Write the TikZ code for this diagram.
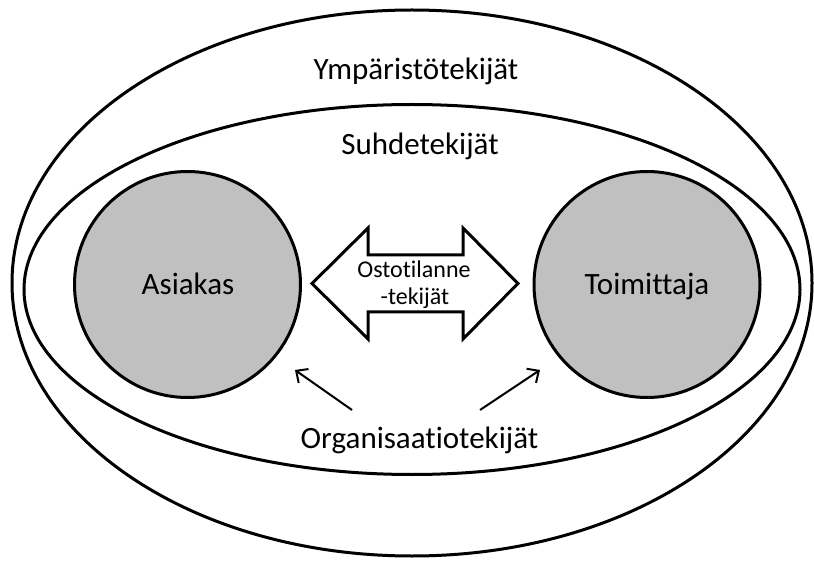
\documentclass[tikz,border=0pt]{standalone}
\usepackage{fontspec}
\setmainfont[Ligatures={NoCommon,NoRare}]{Carlito}
\usetikzlibrary{arrows.meta}
\definecolor{bodygray}{RGB}{192,192,192}
\tikzset{
  ring/.style={draw=black, line width=3pt},
  party/.style={circle, draw=black, line width=3pt, fill=bodygray, minimum size=226pt, inner sep=0pt},
  bigtext/.style={font=\fontsize{31}{36}\selectfont, anchor=base, inner sep=0pt},
  smalltext/.style={font=\fontsize{24}{28}\selectfont, anchor=base, inner sep=0pt},
  pointer/.style={line width=2pt, -{Straight Barb[length=9pt,width=17pt,line width=2pt]}}
}
\begin{document}
\begin{tikzpicture}[x=1pt, y=-1pt]
  \useasboundingbox (0,0) rectangle (814,561);
  % nested contexts
  \draw[ring] (412,283) ellipse [x radius=400, y radius=273];
  \draw[ring] (412,289.5) ellipse [x radius=388, y radius=185];
  % the two parties
  \node[party] (asiakas) at (187.5,284.5) {};
  \node[party] (toimittaja) at (647,284.5) {};
  \node[bigtext] (asiakasl) at (188,295) {Asiakas};
  \node[bigtext] (toimittajal) at (647,295) {Toimittaja};
  % double block arrow between the parties
  \draw[line width=3pt, line join=miter, fill=white]
    (312,283.5) -- (368,228) -- (368,255) -- (463,255) -- (463,228)
    -- (518,283.5) -- (463,339) -- (463,312) -- (368,312) -- (368,339) -- cycle;
  \node[smalltext] (osto1) at (414,278) {Ostotilanne};
  \node[smalltext] (osto2) at (415,305) {-tekijät};
  % layer labels
  \node[bigtext] (ymp) at (416,80) {Ympäristötekijät};
  \node[bigtext] (suhde) at (420,155) {Suhdetekijät};
  \node[bigtext] (org) at (419.5,448) {Organisaatiotekijät};
  % organisational factors point to both parties
  \coordinate (orgL) at (352,410);
  \coordinate (orgR) at (480,410);
  \coordinate (tipL) at (295,370);
  \coordinate (tipR) at (540,370);
  \draw[pointer] (orgL) -- (tipL);
  \draw[pointer] (orgR) -- (tipR);
\end{tikzpicture}
\end{document}
